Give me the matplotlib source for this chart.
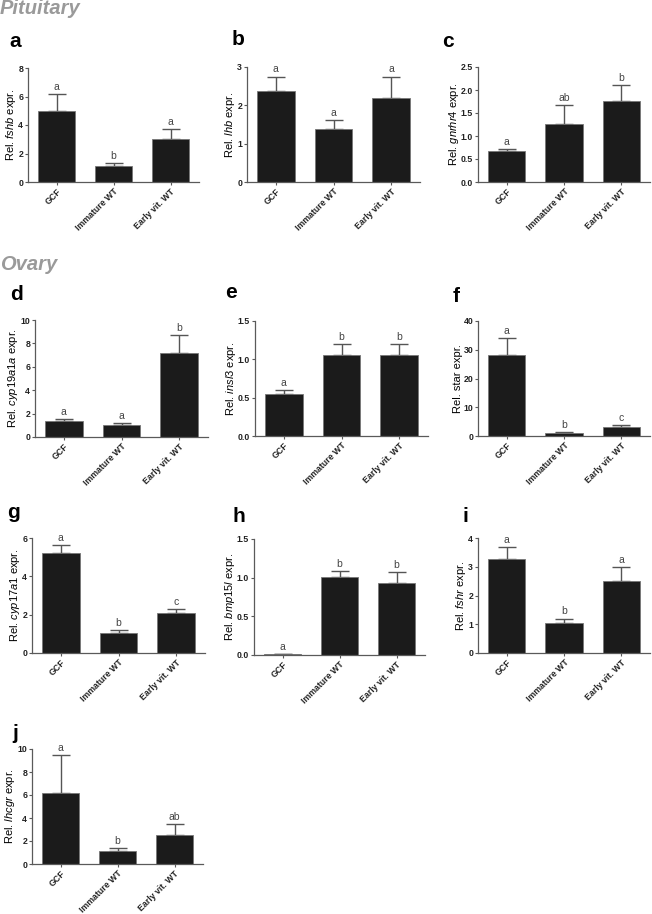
import matplotlib
matplotlib.use('Agg')
import matplotlib.pyplot as plt
import numpy as np

plt.rcParams['font.family'] = ['Liberation Sans', 'DejaVu Sans']
plt.rcParams['mathtext.fontset'] = 'custom'
plt.rcParams['mathtext.rm'] = 'Liberation Sans'
plt.rcParams['mathtext.it'] = 'Liberation Sans:italic'

# 数据
groups = ['GCF', 'Immature WT', 'Early vit. WT']
panel_ids = ['a', 'b', 'c', 'd', 'e', 'f', 'g', 'h', 'i', 'j']
genes = ['fshb', 'lhb', 'gnrhr4', 'cyp19a1a', 'insl3', 'star', 'cyp17a1', 'bmp15l', 'fshr', 'lhcgr']
means = [
    [5.0, 1.1, 3.05],
    [2.38, 1.38, 2.2],
    [0.67, 1.27, 1.77],
    [1.35, 1.05, 7.2],
    [0.55, 1.06, 1.06],
    [28.3, 1.0, 3.0],
    [5.2, 1.05, 2.08],
    [0.01, 1.01, 0.93],
    [3.27, 1.05, 2.5],
    [6.2, 1.1, 2.5],
]
sems = [
    [1.2, 0.2, 0.65],
    [0.37, 0.24, 0.55],
    [0.05, 0.41, 0.33],
    [0.2, 0.15, 1.55],
    [0.05, 0.14, 0.14],
    [5.9, 0.3, 0.7],
    [0.42, 0.13, 0.22],
    [0.005, 0.07, 0.14],
    [0.43, 0.15, 0.5],
    [3.3, 0.25, 1.0],
]
letters = [
    ['a', 'b', 'a'],
    ['a', 'a', 'a'],
    ['a', 'ab', 'b'],
    ['a', 'a', 'b'],
    ['a', 'b', 'b'],
    ['a', 'b', 'c'],
    ['a', 'b', 'c'],
    ['a', 'b', 'b'],
    ['a', 'b', 'a'],
    ['a', 'b', 'ab'],
]
ymax = [8, 3, 2.5, 10, 1.5, 40, 6, 1.5, 4, 10]
ystep = [2, 1, 0.5, 2, 0.5, 10, 2, 0.5, 1, 2]

# 布局(像素: 左, 右, 上, 下)
W, H = 652, 914
axes_px = [
    (28, 199, 68, 182), (247, 420, 67, 182), (478, 650, 67, 182),
    (35, 208, 320, 437), (255, 428, 321, 436), (478, 650, 321, 436),
    (32, 205, 538, 653), (254, 425, 539, 655), (478, 650, 538, 653),
    (32, 203, 749, 864),
]
label_px = [
    (9, 47), (232, 45), (442, 47),
    (10, 300), (225, 298), (453, 302),
    (7, 518), (232, 522), (463, 522),
    (12, 739),
]

fig = plt.figure(figsize=(W / 100, H / 100), dpi=100)
spine_color = '#5a5a5a'

fig.text(0 / W, 1 - 14 / H, 'Pituitary', fontsize=14.5, fontweight='bold',
         fontstyle='italic', color='#9a9a9a', va='baseline')
fig.text(0 / W, 1 - 270 / H, 'Ovary', fontsize=14.5, fontweight='bold',
         fontstyle='italic', color='#9a9a9a', va='baseline')

for k in range(len(panel_ids)):
    x0, x1, y0, y1 = axes_px[k]
    ax = fig.add_axes([x0 / W, 1 - y1 / H, (x1 - x0) / W, (y1 - y0) / H])
    x = np.arange(len(groups))
    ax.bar(x, means[k], width=0.65, color='#1b1b1b', edgecolor='#777777',
           linewidth=0.6, zorder=2)
    ax.errorbar(x, means[k], yerr=[np.zeros(3), sems[k]], fmt='none',
                ecolor='#555555', elinewidth=1.0, capsize=6.5, capthick=1.0, zorder=1)
    for xi, m, s, lt in zip(x, means[k], sems[k], letters[k]):
        ax.annotate(lt, xy=(xi, m + s), xytext=(0, 1.5), textcoords='offset points',
                    ha='center', va='bottom', fontsize=7.5, color='#444444')
    ax.set_xlim(-0.5, 2.5)
    ax.set_ylim(0, ymax[k])
    ticks = np.arange(0, ymax[k] + ystep[k] / 2, ystep[k])
    ax.set_yticks(ticks)
    if ystep[k] < 1:
        ax.set_yticklabels([f'{t:.1f}' for t in ticks])
    else:
        ax.set_yticklabels([f'{t:.0f}' for t in ticks])
    ax.set_xticks(x)
    ax.set_xticklabels(groups, rotation=45, ha='right', rotation_mode='anchor')
    gene = genes[k]
    if gene == 'star':
        ax.set_ylabel('Rel. star expr.', fontsize=8)
    else:
        ax.set_ylabel(r'Rel. $\mathit{' + gene + r'}$ expr.', fontsize=8)
    ax.yaxis.labelpad = 0
    for lab in ax.get_xticklabels() + ax.get_yticklabels():
        lab.set_fontsize(6.3)
        lab.set_fontweight('bold')
        lab.set_color('#222222')
    ax.tick_params(axis='both', length=2.5, width=0.8, color=spine_color, pad=1.0)
    ax.spines['top'].set_visible(False)
    ax.spines['right'].set_visible(False)
    for sp in ('left', 'bottom'):
        ax.spines[sp].set_color(spine_color)
        ax.spines[sp].set_linewidth(0.9)

    lx, ly = label_px[k]
    fig.text(lx / W, 1 - ly / H, panel_ids[k], fontsize=15, fontweight='bold',
             va='baseline', ha='left')

fig.savefig('out.png', dpi=100, facecolor='white')
